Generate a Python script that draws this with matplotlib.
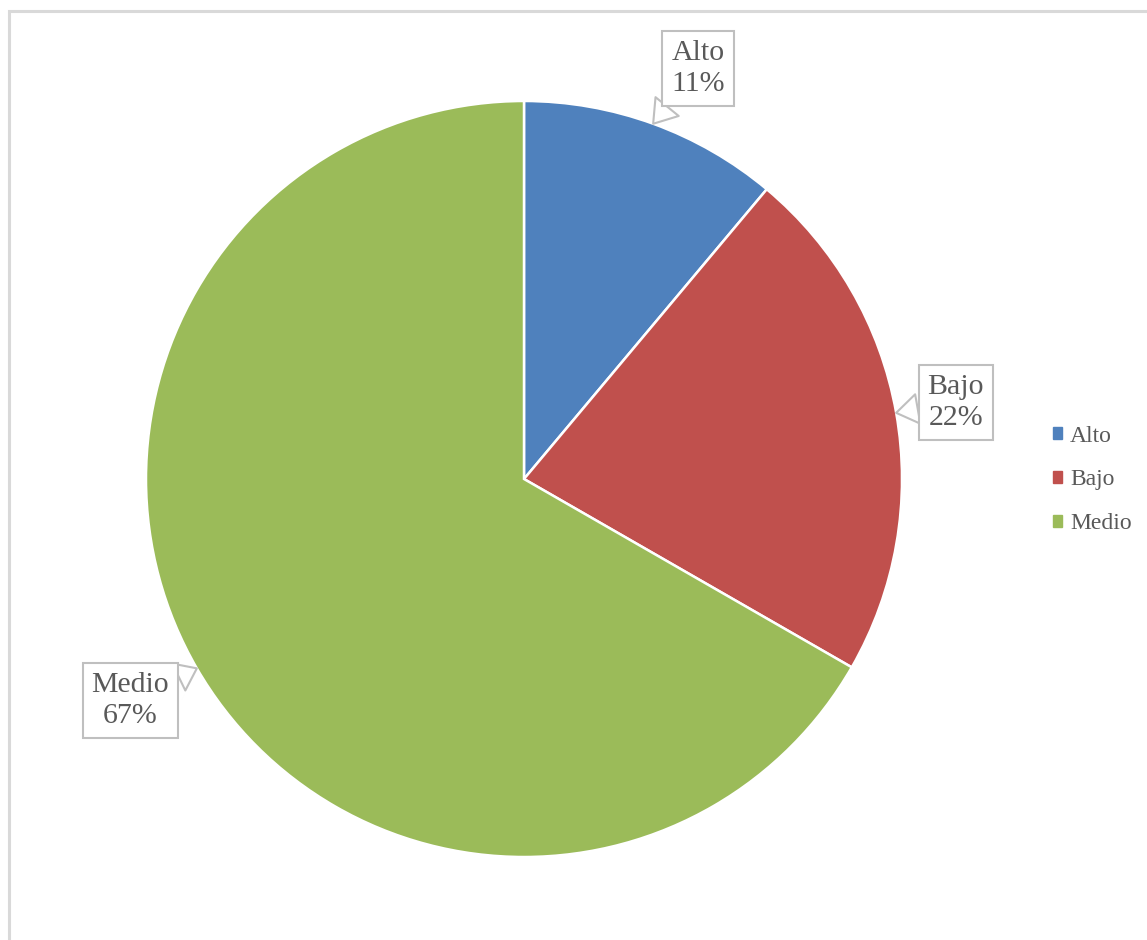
import numpy as np
import matplotlib
matplotlib.use("Agg")
import matplotlib.pyplot as plt
from matplotlib.patches import Rectangle, Patch

categories = ["Alto", "Bajo", "Medio"]
shares = [11.1, 22.2, 66.7]
colors = ["#4F81BD", "#C0504D", "#9BBB59"]
text_color = "#595959"

# label placement: (radius factor, angle shift in degrees)
label_place = [(1.18, -3.0), (1.16, 0.0), (1.195, -0.7)]

W, H = 1147, 940
fig = plt.figure(figsize=(W / 100, H / 100), dpi=100)

# outer chart border (light gray, cut off right/bottom)
fig.patches.append(Rectangle((9 / W, -0.05), 1.1, 1 - 11 / H + 0.05,
                             transform=fig.transFigure, fill=False,
                             ec="#d9d9d9", lw=2.2))

cx, cy, r = 524, 479, 378
ax = fig.add_axes([(cx - r) / W, (H - cy - r) / H, 2 * r / W, 2 * r / H])
wedges, _ = ax.pie(shares, colors=colors, startangle=90, counterclock=False,
                   radius=1, wedgeprops=dict(edgecolor="white", linewidth=1.8))
ax.set_xlim(-1, 1)
ax.set_ylim(-1, 1)
ax.set_aspect("equal")

total = sum(shares)
for w, cat, val, (lr, dth) in zip(wedges, categories, shares, label_place):
    mid = np.deg2rad((w.theta1 + w.theta2) / 2)
    tip = (np.cos(mid), np.sin(mid))
    a = mid + np.deg2rad(dth)
    pos = (lr * np.cos(a), lr * np.sin(a))
    ax.annotate(f"{cat}\n{val / total * 100:.0f}%", xy=tip, xytext=pos,
                ha="center", va="center", fontsize=21.5, family="Liberation Serif",
                color=text_color, linespacing=1.25, annotation_clip=False,
                bbox=dict(boxstyle="square,pad=0.3", fc="white", ec="#bfbfbf", lw=1.5),
                arrowprops=dict(arrowstyle="wedge,tail_width=1.0,shrink_factor=0.5",
                                fc="white", ec="#bfbfbf", lw=1.5,
                                shrinkA=0, shrinkB=0))

handles = [Patch(color=c) for c in colors]
fig.legend(handles, categories, loc="center left", bbox_to_anchor=(1053 / W, (H - 480) / H),
           frameon=False, prop=dict(family="Liberation Serif", size=17),
           handlelength=0.36, handleheight=0.36, handletextpad=0.36,
           borderpad=0, borderaxespad=0,
           labelspacing=0.97, labelcolor=text_color)

fig.savefig("out.png", dpi=100)
